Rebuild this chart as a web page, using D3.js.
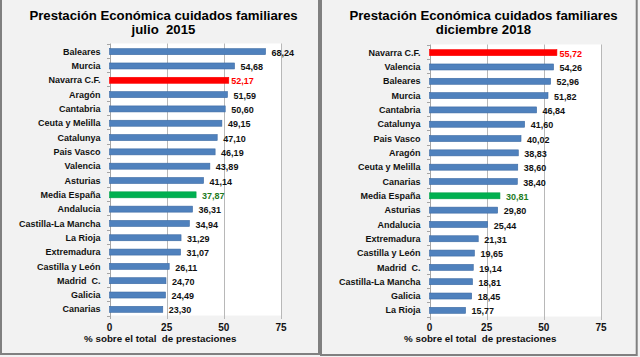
<!DOCTYPE html>
<html><head><meta charset="utf-8">
<script src="https://cdn.jsdelivr.net/npm/d3@7/dist/d3.min.js"></script>
<style>
html,body{margin:0;padding:0;background:#f2f2f2;}
svg{display:block;font-family:"Liberation Sans",Arial,sans-serif;}
text{white-space:pre;}
</style></head>
<body>
<svg id="c" width="640" height="357"></svg>
<script>
const titleLine1 = "Prestación Económica cuidados familiares";
const subtitles = ["julio  2015", "diciembre 2018"];
const xAxisTitle = "% sobre el total  de prestaciones";
const xTicks = [0, 25, 50, 75];

const cats2015 = ["Baleares","Murcia","Navarra C.F.","Aragón","Cantabria","Ceuta y Melilla","Catalunya","Pais Vasco","Valencia","Asturias","Media España","Andalucia","Castilla-La Mancha","La Rioja","Extremadura","Castilla y León","Madrid  C.","Galicia","Canarias"];
const vals2015 = [68.24,54.68,52.17,51.59,50.60,49.15,47.10,46.19,43.89,41.14,37.87,36.31,34.94,31.29,31.07,26.11,24.70,24.49,23.30];

const cats2018 = ["Navarra C.F.","Valencia","Baleares","Murcia","Cantabria","Catalunya","Pais Vasco","Aragón","Ceuta y Melilla","Canarias","Media España","Asturias","Andalucia","Extremadura","Castilla y León","Madrid  C.","Castilla-La Mancha","Galicia","La Rioja"];
const vals2018 = [55.72,54.26,52.96,51.82,46.84,41.60,40.02,38.83,38.60,38.40,30.81,29.80,25.44,21.31,19.65,19.14,18.81,18.45,15.77];

const highlightRed = "Navarra C.F.";
const highlightGreen = "Media España";

const svg = d3.select("#c");
const fmt = v => d3.format(".2f")(v).replace(".", ",");

// panel frames
svg.append("rect").attr("x",1).attr("y",-4).attr("width",318).attr("height",358)
  .attr("fill","#f2f2f2").attr("stroke","#808080").attr("stroke-width",2);
svg.append("rect").attr("x",321).attr("y",-4).attr("width",315.7).attr("height",359)
  .attr("fill","#f2f2f2").attr("stroke","#808080").attr("stroke-width",2);

function panel(ox, cats, vals, sub, yTop, yBot) {
  const g = svg.append("g").attr("transform", `translate(${ox},0)`);
  const x = d3.scaleLinear().domain([0,75]).range([109.5, 281]);
  const y = d3.scaleBand().domain(cats).range([yTop, yBot]);
  const data = cats.map((c,i)=>({c, v: vals[i]}));

  g.append("rect").attr("x", x(0)).attr("y", yTop).attr("width", x(75)-x(0)).attr("height", yBot-yTop)
    .attr("fill","#ffffff");

  // gridlines + x ticks
  g.append("g").selectAll("line").data(xTicks.filter(t=>t>0)).join("line")
    .attr("x1", d=>Math.round(x(d))+0.5).attr("x2", d=>Math.round(x(d))+0.5)
    .attr("y1", yTop).attr("y2", yBot+3.5)
    .attr("stroke","#b8b8b8").attr("stroke-width",1);

  // left axis
  const yAxis = d3.axisLeft(y).tickSize(0).tickFormat("");
  g.append("line").attr("x1", Math.round(x(0))+0.5).attr("x2", Math.round(x(0))+0.5)
    .attr("y1", yTop).attr("y2", yBot+3.5).attr("stroke","#a6a6a6");
  g.append("g").selectAll("line").data(d3.range(cats.length+1)).join("line")
    .attr("x1", Math.round(x(0))-3).attr("x2", Math.round(x(0)))
    .attr("y1", d=>Math.round(yTop + d*y.step())+0.5).attr("y2", d=>Math.round(yTop + d*y.step())+0.5)
    .attr("stroke","#a6a6a6");

  const barH = 6;
  const color = d => d.c===highlightRed ? "#ff0000" : d.c===highlightGreen ? "#00b050" : "#4f81bd";
  const stroke = d => d.c===highlightRed ? "#ff0000" : d.c===highlightGreen ? "#00a04a" : "#3c6aa3";
  g.append("g").selectAll("rect").data(data).join("rect")
    .attr("x", x(0)).attr("y", d=>y(d.c)+(y.bandwidth()-barH)/2+1)
    .attr("width", d=>x(d.v)-x(0)).attr("height", barH)
    .attr("fill", color).attr("stroke", stroke).attr("stroke-width",0.6);

  // category labels
  g.append("g").selectAll("text").data(data).join("text")
    .attr("x", x(0)-9).attr("y", d=>y(d.c)+y.bandwidth()/2+1)
    .attr("dy","0.35em").attr("text-anchor","end")
    .attr("font-size","9px").attr("font-weight","bold").attr("fill","#111")
    .text(d=>d.c);

  // value labels
  g.append("g").selectAll("text").data(data).join("text")
    .attr("x", d=>x(d.v)+(d.c===highlightRed?2.5:6)).attr("y", d=>y(d.c)+y.bandwidth()/2+2)
    .attr("dy","0.35em").attr("text-anchor","start")
    .attr("font-size","9px").attr("font-weight","bold")
    .attr("fill", d=> d.c===highlightRed ? "#ff0000" : d.c===highlightGreen ? "#1e7b1e" : "#111")
    .text(d=>fmt(d.v));

  // x tick labels
  g.append("g").selectAll("text").data(xTicks).join("text")
    .attr("x", d=>x(d)).attr("y", 331)
    .attr("text-anchor","middle").attr("font-size","10px").attr("font-weight","bold").attr("fill","#111")
    .text(d=>d);

  g.append("text").attr("x", (x(0)+x(75))/2-35).attr("y", 342)
    .attr("text-anchor","middle").attr("font-size","9.8px").attr("font-weight","bold").attr("fill","#111")
    .text(xAxisTitle);

  g.append("text").attr("x", 163.5).attr("y", 20)
    .attr("text-anchor","middle").attr("font-size","13.2px").attr("font-weight","bold").attr("fill","#000")
    .text(titleLine1);
  g.append("text").attr("x", 163.5).attr("y", 33.5)
    .attr("text-anchor","middle").attr("font-size","13.2px").attr("font-weight","bold").attr("fill","#000")
    .text(sub);
}

panel(0, cats2015, vals2015, subtitles[0], 43.5, 315.5);
panel(320, cats2018, vals2018, subtitles[1], 44.5, 316.5);
</script>
</body></html>
